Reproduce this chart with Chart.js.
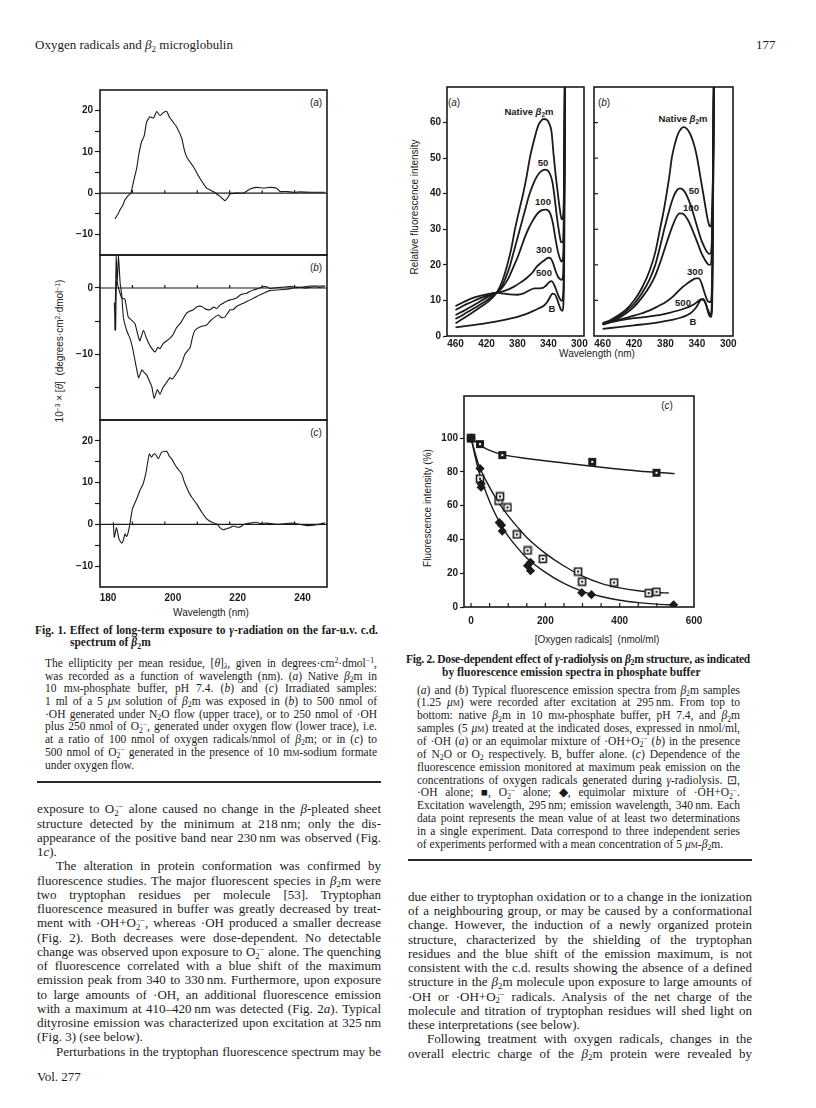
<!DOCTYPE html>
<html><head><meta charset="utf-8">
<script src="https://cdn.jsdelivr.net/npm/chart.js@4.4.1/dist/chart.umd.min.js"></script>
<style>
body{margin:0;background:#fff;}
#page{position:relative;width:816px;height:1108px;overflow:hidden;background:#fff;color:#1b1b1b;font-family:"Liberation Serif","Times New Roman",serif;}
.ln{position:absolute;white-space:nowrap;}
.lab{position:absolute;white-space:nowrap;font-family:"Liberation Sans",Arial,sans-serif;transform:translate(-50%,-50%);line-height:1;}
.rot{transform:translate(-50%,-50%) rotate(-90deg);}
.sc{font-variant:small-caps;}
sub,sup{font-size:0.68em;line-height:0;position:relative;vertical-align:baseline;}
sub{top:0.3em;} sup{top:-0.45em;}
sup.st{margin-left:-0.36em;}
canvas{position:absolute;}
.rule{position:absolute;height:1.6px;background:#2a2a2a;}
</style></head>
<body><div id="page"></div>
<script>
// ---------------- DATA ----------------
// Fig. 1: c.d. spectra, [wavelength nm, 10^-3 x theta]
const cdXTicks = [180, 200, 220, 240];
const cdZeroTicks = [190, 200, 210, 220, 230, 240];
const cdTicksAC = [-10, -5, 0, 5, 10, 15, 20];
const cdTicksB = [-15, -10, -5, 0];
const cdZero = [[180, 0], [250, 0]];
const cdNative = [[184.6,-6.2],[185.5,-5.2],[186.2,-4.0],[187.0,-3.0],[187.7,-1.6],[188.7,-0.6],[189.5,0],[190.4,3.0],[191.3,6.0],[192.0,9.5],[192.8,12.4],[193.6,13.8],[194.4,17.3],[195.4,18.5],[196.5,18.2],[197.5,19.8],[198.5,18.8],[199.5,19.5],[200.6,19.8],[201.3,18.6],[202.1,17.7],[203.6,16.1],[205.2,13.3],[206.0,10.5],[206.7,8.8],[207.7,7.6],[208.8,6.4],[209.8,5.0],[210.8,3.6],[211.8,2.4],[212.9,1.2],[214.9,0.4],[216.0,-0.2],[217.0,-0.8],[218.5,-1.8],[219.3,-1.2],[220.1,-0.2],[222.1,0],[224.2,0],[226.3,1.0],[228.3,1.4],[230.4,1.2],[232.4,1.4],[234.5,1.2],[235.5,0.4],[237.5,0.4],[239.6,0.2],[242.0,0.3],[244.8,0.2],[247.0,0.2],[249.4,0.2]];
const cdOH = [[184.4,-2.2],[184.8,-6.4],[185.1,1.0],[186.0,-0.5],[186.7,-1.5],[187.7,-1.7],[188.7,-4.4],[189.8,-4.9],[190.8,-5.4],[191.6,-7.0],[192.3,-8.0],[193.4,-6.4],[194.4,-7.7],[195.5,-8.8],[197.0,-9.7],[197.8,-9.0],[198.5,-9.2],[199.5,-8.4],[200.6,-8.0],[201.6,-7.6],[202.6,-7.0],[203.6,-6.0],[204.7,-5.4],[205.7,-4.6],[206.7,-3.8],[207.8,-3.5],[208.8,-3.3],[210.0,-2.8],[211.4,-2.8],[212.6,-3.2],[213.9,-3.3],[215.0,-2.9],[216.0,-3.1],[217.0,-2.6],[218.0,-2.3],[219.0,-2.0],[220.1,-1.8],[221.0,-1.7],[222.1,-1.5],[223.5,-1.0],[225.2,-0.8],[226.3,-0.5],[227.3,-0.3],[229.3,0],[230.4,0.2],[231.4,0.2],[232.5,-0.1],[233.5,0],[235.5,0.1],[237.5,0.2],[239.6,0.2],[242.0,0.1],[244.8,0.3],[247.0,0.3],[249.4,0.3]];
const cdOHO2 = [[184.6,-6.4],[185.0,5.0],[185.3,0.5],[185.7,5.0],[186.2,0.8],[186.7,-1.0],[187.2,-4.4],[188.2,-6.4],[189.3,-7.7],[190.0,-9.0],[190.8,-11.0],[191.9,-13.6],[192.9,-12.4],[193.6,-12.8],[194.4,-13.2],[195.5,-14.4],[196.0,-15.0],[196.7,-16.7],[197.7,-15.4],[198.5,-16.1],[199.3,-15.2],[200.1,-14.6],[201.6,-13.6],[202.3,-13.8],[203.1,-13.3],[204.7,-12.0],[205.5,-11.0],[206.2,-10.0],[207.8,-9.0],[208.5,-7.5],[209.3,-6.4],[210.8,-5.9],[212.9,-5.6],[214.0,-5.0],[214.9,-4.6],[216.5,-4.1],[217.5,-4.5],[218.5,-4.4],[220.1,-3.3],[221.0,-3.3],[222.1,-2.8],[224.2,-2.3],[226.3,-1.8],[228.3,-1.3],[230.4,-0.8],[232.4,-0.4],[234.5,-0.3],[237.6,-0.2],[239.5,0],[241.7,0.1],[243.5,0],[245.8,0.2],[247.5,0.1],[249.4,0.2]];
const cdO2 = [[184.1,0.5],[184.4,-3.1],[185.1,-0.8],[185.9,-3.6],[186.7,-4.5],[187.2,-3.8],[187.7,-2.3],[188.2,-2.9],[188.7,-1.9],[189.2,0],[190.0,3.7],[191.3,6.1],[192.3,8.1],[193.3,9.7],[194.2,12.5],[195.2,16.9],[195.9,16.1],[196.5,16.8],[197.0,16.9],[198.0,15.7],[199.0,17.3],[200.6,17.5],[201.3,16.4],[202.1,15.7],[203.6,13.7],[205.2,12.1],[206.0,10.2],[206.7,8.9],[207.5,7.5],[208.3,6.5],[209.8,4.9],[211.4,2.9],[212.9,1.3],[214.5,0.5],[216.0,0.1],[217.0,-0.8],[218.0,-1.3],[219.6,-0.9],[220.5,-0.6],[221.1,-0.4],[222.7,-0.7],[223.5,-0.5],[224.2,-0.1],[226.3,0.3],[228.3,0.5],[229.5,0.2],[231.4,0.3],[233.5,0.1],[235.5,0],[237.5,0.2],[239.6,0.3],[241.5,0],[243.7,-0.3],[246.8,-0.1],[249.4,0.4]];

// Fig. 2(a),(b): fluorescence spectra, [wavelength nm, relative intensity]
const flXTicks = [460, 420, 380, 340, 300];
const flYTicks = [0, 10, 20, 30, 40, 50, 60];
const flA_native = [[460,3.6],[450,4.9],[440,6.3],[430,7.8],[420,9.3],[406.6,12.2],[400,15.2],[393.8,19.5],[388,24.5],[383.2,30],[377.5,35.5],[372.6,40],[368,45],[364,50],[358,55.5],[353.4,59],[349,60.6],[346,61],[342,60.8],[338.5,59.5],[336,57.5],[333.3,51],[330.5,45],[327.8,40],[325,35.3],[323,32.8],[321.2,33.5],[320,40],[319.2,60],[318.5,80]];
const flA_50 = [[460,4.8],[450,6],[440,7.3],[430,8.6],[420,10],[406.6,12.2],[400,14],[395,16.5],[390,19.5],[385,23.5],[380,27.5],[375,31.5],[370,35.5],[365,39.5],[360,42.5],[355,44.8],[350,46.2],[344,46.8],[339,46],[335,43.5],[332,39],[329,33.5],[326,29],[323.5,26.3],[321.5,26.5],[320.2,32],[319.3,55],[318.5,80]];
const flA_100 = [[460,5.9],[450,7],[440,8.2],[430,9.5],[420,10.8],[406.6,12.2],[400,13.5],[395,15],[390,17],[385,19.5],[380,22],[375,25],[370,28],[365,30.5],[360,32.5],[355,34.2],[349,35.3],[343,35.5],[338,34.6],[334,31.5],[331,27.5],[328,24],[325,21.7],[323,20.9],[321.5,21.5],[320.2,27],[319.3,50],[318.5,80]];
const flA_300 = [[460,7.3],[450,8.5],[440,9.5],[430,10.5],[420,11.3],[406.6,12.2],[400,12.5],[395,12.8],[385,13.8],[375,15.2],[368,16.3],[360,18],[355,19.5],[350,20.5],[345,21.3],[340,22],[337,21.8],[334,20.5],[331,18.5],[328,16.8],[325,16],[323,15.8],[321.5,16.5],[320.2,22],[319.3,45],[318.5,80]];
const flA_500 = [[460,8.4],[450,9.5],[440,10.5],[430,11.2],[420,11.7],[406.6,12.2],[400,12],[390,11.7],[380,11.6],[372,12],[365,12.8],[358,13.4],[352,13.4],[347,13.5],[343,14.2],[339,15.1],[336,15.4],[333,14.6],[330,13],[327,11.3],[324.5,10.2],[322.5,9.9],[321.2,11],[320.2,18],[319.3,45],[318.5,80]];
const flA_B = [[460,2.4],[440,3],[420,3.6],[400,4.4],[380,5.4],[370,6.1],[360,7],[352,7.8],[346,8.5],[342,9.4],[338,10.9],[335,11.9],[332,11.8],[329,10.5],[326,8.6],[323.5,7.3],[321.8,7.1],[320.6,9],[319.6,20],[318.8,50],[318.2,80]];
const flB_native = [[460,3.6],[450,4.5],[440,5.8],[430,7.5],[420,10],[410,13.5],[400,18.5],[393,23.5],[387,30],[382,35.5],[378.5,40],[375,45],[372,50],[368,54],[364,56.8],[360,58.3],[357,58.7],[353,58.3],[349,57],[345,54.8],[341,51.5],[338,48],[335,44],[331.5,39.5],[328.5,35.5],[326,32.5],[324,31],[322.5,30.8],[321,33],[319.5,45],[318.5,65],[317.8,80]];
const flB_50 = [[460,3.3],[450,4.2],[440,5.4],[430,7],[420,9],[410,12],[400,16],[393,20],[387,25],[381,30.5],[375,35.5],[370,39],[366,40.8],[362,41.5],[358,41.2],[354,40],[350,38],[346,35.5],[342,32.5],[338,29.5],[334,26.8],[330,24.8],[327,23.6],[324.5,23.1],[322.8,23.2],[321.3,25],[319.8,40],[318.7,65],[318,80]];
const flB_100 = [[460,3.2],[450,4],[440,5],[430,6.4],[420,8.2],[410,10.8],[400,14],[393,17],[387,20.5],[381,24.5],[375,28.5],[370,31.5],[366,33.5],[362,34.5],[358,34.4],[354,33.5],[350,32],[346,30],[342,27.8],[338,25.5],[334,23.2],[330,21.5],[327,20.5],[324.5,20],[322.8,20.1],[321.3,22],[319.8,38],[318.7,65],[318,80]];
const flB_300 = [[460,3.4],[450,3.9],[440,4.5],[430,5.1],[420,5.7],[410,6.4],[400,7.2],[390,8.3],[380,9.5],[372,10.8],[365,12.3],[358,13.8],[352,14.8],[346,15.7],[341,16.2],[337.5,16.2],[334,14.8],[330.5,12.3],[327.5,10.4],[325,9.6],[323,9.5],[321.3,11],[319.8,30],[318.7,60],[318,80]];
const flB_500 = [[460,3.3],[440,4.3],[420,5],[400,5.5],[385,6],[375,6.5],[365,7.1],[355,7.8],[348,8.4],[343,9],[339,9.7],[335,10.3],[332,10.4],[329,9.3],[326,7.4],[324,6.3],[322.5,6],[321.3,7.5],[320,20],[318.9,55],[318.2,80]];
const flB_B = [[460,2.0],[440,2.5],[420,3.0],[400,3.5],[385,4],[370,4.6],[360,5.2],[352,5.9],[346,6.8],[341,8],[337,9.5],[334,10.2],[331,10],[328,8.5],[325.5,6.5],[323.5,5.5],[322,5.4],[320.8,7],[319.7,25],[318.8,60],[318.2,80]];

// Fig. 2(c): [oxygen radicals nmol/ml, fluorescence intensity %]
const doseXTicks = [0, 200, 400, 600];
const doseXMinor = [0, 50, 100, 150, 200, 250, 300, 350, 400, 450, 500, 550];
const doseYTicks = [0, 20, 40, 60, 80, 100];
const ptsOH = [[0,100],[24,76],[74,63],[78,65.5],[98,59],[123,43],[152,33.5],[193,28.5],[288,21],[299,15],[385,14.5],[478,8.2],[499,9]];
const ptsO2 = [[0,100],[24,96.5],[84,90],[326,86],[499,79.5]];
const ptsMix = [[0,100],[24,82],[27,73],[27,71],[76,50],[82,48.5],[84,45],[152,24.5],[160,26.5],[160,21.5],[298,8.5],[324,7.3],[545,1.3]];
const fitO2 = [[0,100],[10,98.3],[25,95.8],[50,92.8],[85,90.3],[150,88],[250,85.3],[350,82.8],[450,80.6],[548,79]];
const fitOH = [[0,100],[20,84.5],[40,75],[60,67],[80,60],[100,54],[125,47.3],[150,41.2],[200,31.8],[250,24.3],[300,18.3],[350,14],[400,11.3],[450,9.6],[500,8.6],[532,8.3]];
const fitMix = [[0,100],[20,81],[40,68],[60,57.5],[80,49],[100,42],[125,35],[150,29],[200,20.5],[250,14],[300,9.3],[350,6.2],[400,4],[450,2.6],[500,1.7],[548,1.2]];

// ---------------- TEXT ----------------
const O2r = 'O<sub>2</sub><sup class="st">·−</sup>';
const b2m = '<i>β</i><sub>2</sub>m';
const uM = '<i>μ</i><span class="sc">m</span>';
const mM = 'm<span class="sc">m</span>';
const fig1Title = ['Fig. 1. Effect of long-term exposure to <i>γ</i>-radiation on the far-u.v. c.d.', 'spectrum of ' + b2m];
const fig1Cap = [
 'The ellipticity per mean residue, [<i>θ</i>]<sub><i>λ</i></sub>, given in degrees·cm<sup>2</sup>·dmol<sup>−1</sup>,',
 'was recorded as a function of wavelength (nm). (<i>a</i>) Native ' + b2m + ' in',
 '10 ' + mM + '-phosphate buffer, pH 7.4. (<i>b</i>) and (<i>c</i>) Irradiated samples:',
 '1 ml of a 5 ' + uM + ' solution of ' + b2m + ' was exposed in (<i>b</i>) to 500 nmol of',
 '·OH generated under N<sub>2</sub>O flow (upper trace), or to 250 nmol of ·OH',
 'plus 250 nmol of ' + O2r + ', generated under oxygen flow (lower trace), i.e.',
 'at a ratio of 100 nmol of oxygen radicals/nmol of ' + b2m + '; or in (<i>c</i>) to',
 '500 nmol of ' + O2r + ' generated in the presence of 10 ' + mM + '-sodium formate',
 'under oxygen flow.'];
const fig2Title = ['Fig. 2. Dose-dependent effect of <i>γ</i>-radiolysis on ' + b2m + ' structure, as indicated', 'by fluorescence emission spectra in phosphate buffer'];
const fig2Cap = [
 '(<i>a</i>) and (<i>b</i>) Typical fluorescence emission spectra from ' + b2m + ' samples',
 '(1.25 ' + uM + ') were recorded after excitation at 295&#8201;nm. From top to',
 'bottom: native ' + b2m + ' in 10 ' + mM + '-phosphate buffer, pH 7.4, and ' + b2m,
 'samples (5 ' + uM + ') treated at the indicated doses, expressed in nmol/ml,',
 'of ·OH (<i>a</i>) or an equimolar mixture of ·OH+' + O2r + ' (<i>b</i>) in the presence',
 'of N<sub>2</sub>O or O<sub>2</sub> respectively. B, buffer alone. (<i>c</i>) Dependence of the',
 'fluorescence emission monitored at maximum peak emission on the',
 'concentrations of oxygen radicals generated during <i>γ</i>-radiolysis. ⊡,',
 '·OH alone; ■, ' + O2r + ' alone; ◆, equimolar mixture of ·OH+' + O2r + '.',
 'Excitation wavelength, 295&#8201;nm; emission wavelength, 340&#8201;nm. Each',
 'data point represents the mean value of at least two determinations',
 'in a single experiment. Data correspond to three independent series',
 'of experiments performed with a mean concentration of 5 ' + uM + '-' + b2m + '.'];
const leftBody = [
 'exposure to ' + O2r + ' alone caused no change in the <i>β</i>-pleated sheet',
 'structure detected by the minimum at 218&#8201;nm; only the dis-',
 'appearance of the positive band near 230&#8201;nm was observed (Fig.',
 '1<i>c</i>).',
 'The alteration in protein conformation was confirmed by',
 'fluorescence studies. The major fluorescent species in ' + b2m + ' were',
 'two tryptophan residues per molecule [53]. Tryptophan',
 'fluorescence measured in buffer was greatly decreased by treat-',
 'ment with ·OH+' + O2r + ', whereas ·OH produced a smaller decrease',
 '(Fig. 2). Both decreases were dose-dependent. No detectable',
 'change was observed upon exposure to ' + O2r + ' alone. The quenching',
 'of fluorescence correlated with a blue shift of the maximum',
 'emission peak from 340 to 330&#8201;nm. Furthermore, upon exposure',
 'to large amounts of ·OH, an additional fluorescence emission',
 'with a maximum at 410–420&#8201;nm was detected (Fig. 2<i>a</i>). Typical',
 'dityrosine emission was characterized upon excitation at 325&#8201;nm',
 '(Fig. 3) (see below).',
 'Perturbations in the tryptophan fluorescence spectrum may be'];
const rightBody = [
 'due either to tryptophan oxidation or to a change in the ionization',
 'of a neighbouring group, or may be caused by a conformational',
 'change. However, the induction of a newly organized protein',
 'structure, characterized by the shielding of the tryptophan',
 'residues and the blue shift of the emission maximum, is not',
 'consistent with the c.d. results showing the absence of a defined',
 'structure in the ' + b2m + ' molecule upon exposure to large amounts of',
 '·OH or ·OH+' + O2r + ' radicals. Analysis of the net charge of the',
 'molecule and titration of tryptophan residues will shed light on',
 'these interpretations (see below).',
 'Following treatment with oxygen radicals, changes in the',
 'overall electric charge of the ' + b2m + ' protein were revealed by'];

// ---------------- LAYOUT HELPERS ----------------
const page = document.getElementById('page');
const INK = '#1b1b1b';
function fit(el, width) {
  el.style.wordSpacing = '0px'; el.style.letterSpacing = '0px';
  const w = el.getBoundingClientRect().width;
  const n = (el.textContent.match(/ /g) || []).length;
  const extra = width - w;
  if (extra >= 0 && n > 0) el.style.wordSpacing = (extra / n) + 'px';
  else if (extra < 0) el.style.letterSpacing = (extra / el.textContent.length) + 'px';
}
function block(lines, o) {
  lines.forEach((h, i) => {
    const d = document.createElement('div');
    d.className = 'ln'; d.innerHTML = h;
    const ind = (o.indent && o.indent[i]) || 0;
    d.style.left = (o.x + ind) + 'px';
    d.style.fontSize = o.size + 'px';
    d.style.lineHeight = o.step + 'px';
    d.style.top = (o.y0 + i * o.step - o.step / 2) + 'px';
    if (o.bold) d.style.fontWeight = 'bold';
    page.appendChild(d);
    if (!(o.last || []).includes(i)) fit(d, o.w - ind);
  });
}
function lab(html, x, y, o) {
  o = o || {};
  const d = document.createElement('div');
  d.className = 'lab' + (o.rot ? ' rot' : '');
  d.innerHTML = html;
  d.style.left = x + 'px'; d.style.top = y + 'px';
  d.style.fontSize = (o.size || 10) + 'px';
  if (o.bold) d.style.fontWeight = 'bold';
  page.appendChild(d);
}
function rule(x, y, w) {
  const d = document.createElement('div'); d.className = 'rule';
  d.style.left = x + 'px'; d.style.top = (y - 0.8) + 'px'; d.style.width = w + 'px';
  page.appendChild(d);
}
function mkCanvas(left, top, w, h) {
  const c = document.createElement('canvas');
  c.width = w; c.height = h;
  c.style.left = left + 'px'; c.style.top = top + 'px';
  c.style.width = w + 'px'; c.style.height = h + 'px';
  page.appendChild(c); return c;
}

// ---------------- TEXT PLACEMENT ----------------
const hdr = document.createElement('div'); hdr.className = 'ln';
hdr.style.cssText = 'left:35px;top:37px;font-size:13px;line-height:16px;';
hdr.innerHTML = 'Oxygen radicals and <i>β</i><sub>2</sub> microglobulin';
page.appendChild(hdr);
const pg = document.createElement('div'); pg.className = 'ln';
pg.style.cssText = 'left:756px;top:37px;font-size:13px;line-height:16px;'; pg.textContent = '177';
page.appendChild(pg);

block(fig1Title, {x: 35, w: 343, y0: 630, step: 12.7, size: 11.5, bold: true, last: [1], indent: {1: 35}});
block(fig1Cap, {x: 45, w: 332, y0: 663.3, step: 12.7, size: 11.5, last: [8]});
rule(37, 782, 344);
block(leftBody, {x: 37, w: 344, y0: 809.5, step: 14.25, size: 13, last: [3, 16], indent: {4: 19, 17: 19}});
const vol = document.createElement('div'); vol.className = 'ln';
vol.style.cssText = 'left:37px;top:1069px;font-size:13px;line-height:16px;'; vol.textContent = 'Vol. 277';
page.appendChild(vol);

block(fig2Title, {x: 406, w: 344, y0: 659.3, step: 13, size: 11.5, bold: true, last: [1], indent: {1: 36}});
block(fig2Cap, {x: 417, w: 323, y0: 690, step: 12.85, size: 11.5, last: [12]});
rule(408, 860, 344);
block(rightBody, {x: 408, w: 344, y0: 897, step: 14.25, size: 13, last: [9], indent: {10: 19}});

// chart texts
lab('10<sup>−3</sup> × [<i>θ</i>] &nbsp;(degrees·cm<sup>2</sup>·dmol<sup>−1</sup>)', 60, 351, {rot: true, size: 10});
lab('Wavelength (nm)', 211, 613, {size: 10});
lab('(<i>a</i>)', 316, 103, {size: 10});
lab('(<i>b</i>)', 316, 268, {size: 10});
lab('(<i>c</i>)', 316, 433, {size: 10});

lab('Relative fluorescence intensity', 415, 207, {rot: true, size: 10});
lab('Wavelength (nm)', 597, 354, {size: 10});
lab('(<i>a</i>)', 454, 103, {size: 10});
lab('(<i>b</i>)', 604, 103, {size: 10});
const bl = 'Native <i>β</i><sub>2</sub>m';
lab(bl, 529, 112, {size: 9.5, bold: true});
lab('50', 543, 163, {size: 9.5, bold: true});
lab('100', 543, 202, {size: 9.5, bold: true});
lab('300', 544, 250, {size: 9.5, bold: true});
lab('500', 544, 273, {size: 9.5, bold: true});
lab('B', 552, 309, {size: 9.5, bold: true});
lab(bl, 683, 119, {size: 9.5, bold: true});
lab('50', 694, 191, {size: 9.5, bold: true});
lab('100', 691, 208, {size: 9.5, bold: true});
lab('300', 695, 272, {size: 9.5, bold: true});
lab('500', 683, 303, {size: 9.5, bold: true});
lab('B', 693, 322, {size: 9.5, bold: true});

lab('Fluorescence intensity (%)', 428, 508, {rot: true, size: 10});
lab('[Oxygen radicals] &nbsp;(nmol/ml)', 597, 640, {size: 10});
lab('(<i>c</i>)', 667, 406, {size: 10});

// ---------------- CHARTS ----------------
Chart.defaults.font.family = '"Liberation Sans", Arial, sans-serif';
Chart.defaults.color = INK;
const tickFont = {size: 10, weight: 'bold'};
const fmt = v => (v < 0 ? '−' + Math.abs(v) : String(v));
const pts = a => a.map(([x, y]) => ({x, y}));
const noPad = s => { s.paddingTop = 0; s.paddingBottom = 0; s.paddingLeft = 0; s.paddingRight = 0; };
function framePlugin(lw) {
  return {id: 'frame', afterDraw(chart) {
    const {ctx, chartArea: a} = chart;
    ctx.save(); ctx.strokeStyle = INK; ctx.lineWidth = lw;
    ctx.strokeRect(a.left, a.top, a.right - a.left, a.bottom - a.top);
    ctx.restore();
  }};
}
function marksPlugin(sets) {
  return {id: 'marks', afterDraw(chart) {
    const {ctx, chartArea: a} = chart;
    ctx.save(); ctx.strokeStyle = INK; ctx.lineWidth = 1.2;
    sets.forEach(s => s.values.forEach(v => {
      ctx.beginPath();
      if (s.axis === 'x') {
        const x = chart.scales.x.getPixelForValue(v);
        const y = s.at === 'bottom' ? a.bottom : chart.scales.y.getPixelForValue(s.at);
        ctx.moveTo(x, y); ctx.lineTo(x, y + s.len);
      } else {
        const y = chart.scales.y.getPixelForValue(v);
        ctx.moveTo(a.left, y); ctx.lineTo(a.left + s.len, y);
      }
      ctx.stroke();
    }));
    ctx.restore();
  }};
}
const base = {responsive: false, animation: false, devicePixelRatio: 1, events: [],
  plugins: {legend: {display: false}, tooltip: {enabled: false}}};
function yAxis(min, max, ticks, width, labelFn, opts) {
  opts = opts || {};
  const shown = opts.display !== false;
  return {type: 'linear', min, max, display: shown,
    afterFit(s) { if (shown) s.width = width; noPad(s); },
    afterBuildTicks(s) { s.ticks = ticks.map(v => ({value: v})); },
    grid: {drawOnChartArea: false, drawTicks: true, tickLength: opts.tl || 5, color: INK, tickColor: INK, tickWidth: 1.2},
    border: {display: false},
    ticks: {autoSkip: false, padding: 2, font: tickFont, color: INK, callback: labelFn}};
}
function xAxis(min, max, ticks, height, shown, extra) {
  return Object.assign({type: 'linear', min, max, display: shown,
    afterFit(s) { if (shown) s.height = height; noPad(s); },
    afterBuildTicks(s) { s.ticks = ticks.map(v => ({value: v})); },
    grid: {drawOnChartArea: false, drawTicks: false}, border: {display: false}}, extra);
}

function cdPanel(top, series, yMin, yMax, yTicks, showX) {
  const h = showX ? 4 + 167 + 30 : 173;
  const c = mkCanvas(55, top, 276, h);
  return new Chart(c, {type: 'line',
    data: {datasets: [
      ...series.map(s => ({data: pts(s), borderColor: INK, borderWidth: 1.1, pointRadius: 0, tension: 0.15})),
      {data: pts(cdZero), borderColor: INK, borderWidth: 1.1, pointRadius: 0}]},
    options: {...base,
      layout: {padding: {left: 0, right: 4, top: 4, bottom: showX ? 0 : 4}},
      scales: {
        x: xAxis(180, 250, cdXTicks, 30, showX, {ticks: {autoSkip: false, maxRotation: 0, labelOffset: 8, padding: 5, font: tickFont, color: INK}}),
        y: yAxis(yMin, yMax, yTicks, 45, v => (v % 10 === 0 ? fmt(v) : ''))}},
    plugins: [framePlugin(1.6), marksPlugin([{axis: 'x', values: cdZeroTicks, at: 0, len: -3}])]});
}
cdPanel(86, [cdNative], -15, 25, cdTicksAC, false);
cdPanel(251, [cdOH, cdOHO2], -20, 5, cdTicksB, false);
cdPanel(416, [cdO2], -15, 25, cdTicksAC, true);

function flPanel(left, w, series, showY) {
  const c = mkCanvas(left, 83, w, 4 + 249 + 24);
  return new Chart(c, {type: 'line',
    data: {datasets: series.map(s => ({data: pts(s), borderColor: INK, borderWidth: 1.8, pointRadius: 0, cubicInterpolationMode: 'monotone'}))},
    options: {...base,
      layout: {padding: {left: showY ? 0 : 4, right: 4, top: 4, bottom: 0}},
      scales: {
        x: Object.assign(xAxis(294, 471, flXTicks, 24, true, {ticks: {autoSkip: false, maxRotation: 0, padding: 2, font: tickFont, color: INK}}), {reverse: true}),
        y: yAxis(0, 70, flYTicks, 40, v => fmt(v), {display: showY, tl: 4})}},
    plugins: [framePlugin(1.6)].concat(showY ? [] : [marksPlugin([{axis: 'y', values: flYTicks.slice(1), len: 4}])])});
}
flPanel(407, 181, [flA_native, flA_50, flA_100, flA_300, flA_500, flA_B], true);
flPanel(590, 147, [flB_native, flB_50, flB_100, flB_300, flB_500, flB_B], false);

function markImg(kind) {
  const c = document.createElement('canvas'); c.width = 10; c.height = 10;
  const g = c.getContext('2d');
  if (kind === 'dot') {
    g.fillStyle = '#fff'; g.fillRect(1, 1, 8, 8);
    g.strokeStyle = INK; g.lineWidth = 1.6; g.strokeRect(1.5, 1.5, 7, 7);
    g.fillStyle = INK; g.fillRect(4, 4, 2, 2);
  } else {
    g.fillStyle = INK; g.fillRect(1, 1, 8, 8);
    g.fillStyle = '#fff'; g.fillRect(4, 4, 2, 2);
  }
  return c;
}
(function dosePanel() {
  const c = mkCanvas(428, 390, 36 + 230 + 14, 4 + 213 + 22);
  const line = d => ({type: 'line', data: pts(d), borderColor: INK, borderWidth: 1.4, pointRadius: 0, showLine: true, cubicInterpolationMode: 'monotone'});
  new Chart(c, {type: 'scatter',
    data: {datasets: [
      {data: pts(ptsMix), pointStyle: 'rectRot', pointRadius: 4.6, backgroundColor: INK, borderColor: INK, borderWidth: 0},
      {data: pts(ptsO2), pointStyle: markImg('solid'), pointRadius: 5},
      {data: pts(ptsOH), pointStyle: markImg('dot'), pointRadius: 5},
      line(fitO2), line(fitOH), line(fitMix)]},
    options: {...base,
      layout: {padding: {left: 0, right: 14, top: 4, bottom: 0}},
      scales: {
        x: xAxis(-19, 600, doseXTicks, 22, true, {ticks: {autoSkip: false, maxRotation: 0, padding: 8, font: tickFont, color: INK}}),
        y: yAxis(0, 125, doseYTicks, 36, v => fmt(v), {tl: 4})}},
    plugins: [framePlugin(1.6), marksPlugin([{axis: 'x', values: doseXMinor, at: 'bottom', len: -4}])]});
})();
</script>
</body></html>
